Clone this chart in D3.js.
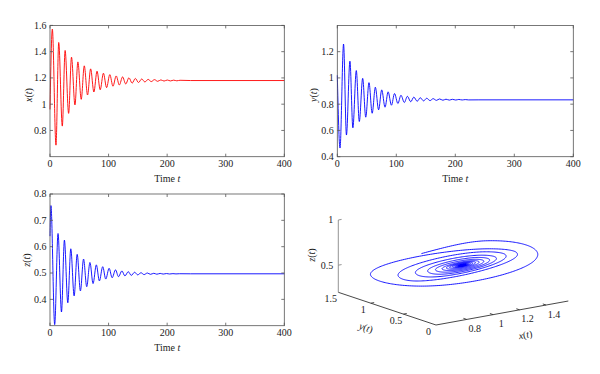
<!DOCTYPE html>
<html><head><meta charset="utf-8">
<script src="https://cdn.jsdelivr.net/npm/d3@7"></script>
<style>
body{margin:0;background:#fff}
svg{display:block}
text{font-family:"Liberation Serif","Times New Roman","DejaVu Serif",serif;fill:#222}
</style>
</head><body>
<svg id="c" width="600" height="374" font-family="Liberation Serif, Times New Roman, serif"></svg>
<script>
// ---- data (extrema) ----
const xTimes = [0, 4, 10.2, 14.9, 21, 25.8, 31.8, 36.7, 42.6, 47.6, 53.3, 58.5, 64.1, 69.4, 74.9, 80.3, 85.7, 91.2, 96.6, 102.1, 107.5, 113, 118.4, 123.9, 129.3, 134.8, 140.2, 145.7, 151.1, 156.6, 162, 167.5, 172.9, 178.4, 183.8, 189.3, 194.7, 200.2, 205.6, 211.1, 216.5, 222, 240, 400];
const xValues = [0.96, 1.572, 0.688, 1.47, 0.833, 1.409, 0.93, 1.358, 0.994, 1.322, 1.037, 1.292, 1.07, 1.269, 1.093, 1.251, 1.11, 1.236, 1.126, 1.225, 1.137, 1.215, 1.146, 1.208, 1.154, 1.201, 1.16, 1.196, 1.165, 1.192, 1.169, 1.189, 1.172, 1.187, 1.174, 1.185, 1.176, 1.184, 1.177, 1.183, 1.178, 1.182, 1.18, 1.18];

const yTimes = [0, 4.6, 10.6, 15.5, 21.4, 26.4, 32.2, 37.3, 43, 48.2, 53.7, 59.1, 64.5, 70, 75.3, 80.9, 86.1, 91.8, 97, 102.7, 107.9, 113.6, 118.8, 124.5, 129.7, 135.4, 140.6, 146.3, 151.5, 157.2, 162.4, 168.1, 173.3, 179, 184.2, 189.9, 195.1, 200.8, 206, 211.7, 216.9, 222.6, 240, 400];
const yValues = [1.02, 0.466, 1.258, 0.565, 1.127, 0.62, 1.056, 0.668, 0.997, 0.701, 0.964, 0.731, 0.929, 0.757, 0.909, 0.777, 0.894, 0.792, 0.881, 0.805, 0.868, 0.813, 0.86, 0.818, 0.854, 0.822, 0.849, 0.825, 0.845, 0.827, 0.842, 0.829, 0.84, 0.83, 0.838, 0.831, 0.837, 0.8315, 0.836, 0.832, 0.835, 0.8325, 0.833, 0.833];

const zTimes = [0, 1.6, 8.0, 13.7, 19.6, 24.6, 30.4, 35.5, 41.2, 46.4, 51.9, 57.3, 62.7, 68.2, 73.5, 79.1, 84.3, 90, 95.2, 100.9, 106.1, 111.8, 117, 122.7, 127.9, 133.6, 138.8, 144.5, 149.7, 155.4, 160.6, 166.3, 171.5, 177.2, 182.4, 188.1, 193.3, 199, 204.2, 209.9, 215.1, 220.8, 240, 400];
const zValues = [0.64, 0.756, 0.304, 0.65, 0.352, 0.625, 0.387, 0.592, 0.413, 0.571, 0.432, 0.553, 0.448, 0.54, 0.46, 0.531, 0.47, 0.524, 0.477, 0.518, 0.482, 0.512, 0.486, 0.508, 0.489, 0.505, 0.491, 0.503, 0.493, 0.501, 0.494, 0.5, 0.495, 0.499, 0.4955, 0.4985, 0.496, 0.498, 0.4963, 0.4977, 0.4966, 0.4973, 0.497, 0.497];

const timeTicks = [0, 100, 200, 300, 400];
const xTicks = [0.8, 1, 1.2, 1.4, 1.6];
const yTicks = [0.4, 0.6, 0.8, 1, 1.2];
const zTicks = [0.4, 0.5, 0.6, 0.7, 0.8];
const x3Ticks = [0.8, 1, 1.2, 1.4];
const y3Ticks = [0, 0.5, 1, 1.5];
const z3Ticks = [0.5, 1];

// ---- drawing ----
const svg = d3.select('#c');
const fmt = v => String(+v.toFixed(2));
const FS = 10;

function axisLabel(sel, name) {
  sel.append('tspan').attr('font-style', 'italic').text(name);
  sel.append('tspan').text('(');
  sel.append('tspan').attr('font-style', 'italic').text('t');
  sel.append('tspan').text(')');
}

function panel(o) {
  const g = svg.append('g');
  const sx = d3.scaleLinear().domain([0, 400]).range([o.l, o.r]);
  const sy = d3.scaleLinear().domain(o.yd).range([o.b, o.t]);
  const line = d3.line().x((d, i) => sx(o.times[i])).y(d => sy(d)).curve(d3.curveMonotoneX);
  g.append('path').attr('d', line(o.values)).attr('fill', 'none')
    .attr('stroke', o.color).attr('stroke-width', 0.9);
  g.append('rect').attr('x', o.l).attr('y', o.t).attr('width', o.r - o.l).attr('height', o.b - o.t)
    .attr('fill', 'none').attr('stroke', '#555').attr('stroke-width', 0.8);
  const tk = 3;
  timeTicks.forEach(v => {
    const x = sx(v);
    g.append('line').attr('x1', x).attr('x2', x).attr('y1', o.b).attr('y2', o.b - tk).attr('stroke', '#555').attr('stroke-width', 0.8);
    g.append('line').attr('x1', x).attr('x2', x).attr('y1', o.t).attr('y2', o.t + tk).attr('stroke', '#555').attr('stroke-width', 0.8);
    g.append('text').attr('x', x).attr('y', o.b + 10.5).attr('text-anchor', 'middle').attr('font-size', FS).text(fmt(v));
  });
  o.yt.forEach(v => {
    const y = sy(v);
    g.append('line').attr('x1', o.l).attr('x2', o.l + tk).attr('y1', y).attr('y2', y).attr('stroke', '#555').attr('stroke-width', 0.8);
    g.append('line').attr('x1', o.r).attr('x2', o.r - tk).attr('y1', y).attr('y2', y).attr('stroke', '#555').attr('stroke-width', 0.8);
    g.append('text').attr('x', o.l - 3.5).attr('y', y + 3.4).attr('text-anchor', 'end').attr('font-size', FS).text(fmt(v));
  });
  const tl = g.append('text').attr('x', (o.l + o.r) / 2).attr('y', o.b + 25).attr('text-anchor', 'middle').attr('font-size', FS);
  tl.append('tspan').text('Time ');
  tl.append('tspan').attr('font-style', 'italic').text('t');
  const yl = g.append('text').attr('transform', `translate(${o.l - o.lo},${o.ly}) rotate(-90)`)
    .attr('text-anchor', 'middle').attr('font-size', FS);
  axisLabel(yl, o.name);
}

panel({l: 50, r: 284.3, t: 25.4, b: 156.7, yd: [0.6, 1.6], yt: xTicks, times: xTimes, values: xValues, color: '#f00', name: 'x', ly: 95, lo: 18});
panel({l: 337.3, r: 573.3, t: 25.4, b: 156.7, yd: [0.4, 1.4], yt: yTicks, times: yTimes, values: yValues, color: '#0000ff', name: 'y', ly: 95, lo: 20});
panel({l: 50, r: 284.3, t: 194, b: 325.7, yd: [0.3, 0.8], yt: zTicks, times: zTimes, values: zValues, color: '#0000ff', name: 'z', ly: 260, lo: 20});

// ---- 3D phase portrait ----
function monotone(xs, ys) {
  const n = xs.length, h = [], s = [], m = new Array(n);
  for (let i = 0; i < n - 1; i++) { h[i] = xs[i + 1] - xs[i]; s[i] = (ys[i + 1] - ys[i]) / h[i]; }
  for (let i = 1; i < n - 1; i++) {
    const p = (s[i - 1] * h[i] + s[i] * h[i - 1]) / (h[i - 1] + h[i]);
    m[i] = (Math.sign(s[i - 1]) + Math.sign(s[i])) * Math.min(Math.abs(s[i - 1]), Math.abs(s[i]), 0.5 * Math.abs(p)) || 0;
  }
  m[0] = (3 * s[0] - m[1]) / 2;
  m[n - 1] = (3 * s[n - 2] - m[n - 2]) / 2;
  return t => {
    let i = Math.max(0, Math.min(n - 2, d3.bisectRight(xs, t) - 1));
    const u = (t - xs[i]) / h[i], u2 = u * u, u3 = u2 * u;
    return (2 * u3 - 3 * u2 + 1) * ys[i] + (u3 - 2 * u2 + u) * h[i] * m[i] + (-2 * u3 + 3 * u2) * ys[i + 1] + (u3 - u2) * h[i] * m[i + 1];
  };
}
const fx = monotone(xTimes, xValues), fy = monotone(yTimes, yValues), fz = monotone(zTimes, zValues);

const O = [436, 325], EX = [132.3, -24], EY = [-97.7, -32.7], EZ = [0, -72.3];
const s3x = d3.scaleLinear().domain([0.568, 1.568]).range([0, 1]);
const s3y = d3.scaleLinear().domain([0, 1.5]).range([0, 1]);
const s3z = d3.scaleLinear().domain([0.2, 1]).range([0, 1]);
function proj(x, y, z) {
  const a = s3x(x), b = s3y(y), c = s3z(z);
  return [O[0] + a * EX[0] + b * EY[0] + c * EZ[0], O[1] + a * EX[1] + b * EY[1] + c * EZ[1]];
}
const g3 = svg.append('g');
const ts = d3.range(0, 240, 0.05).concat([400]);
const pts = ts.map(t => proj(fx(t), fy(t), fz(t)));
g3.append('path').attr('d', d3.line()(pts)).attr('fill', 'none').attr('stroke', '#0000ff').attr('stroke-width', 0.9);

// axes
const xa0 = proj(0.568, 0, 0.2), xa1 = proj(1.568, 0, 0.2);
const ya1 = proj(0.568, 1.5, 0.2);
const za1 = proj(0.568, 1.5, 1);
g3.append('line').attr('x1', xa0[0]).attr('y1', xa0[1]).attr('x2', xa1[0]).attr('y2', xa1[1]).attr('stroke', '#333').attr('stroke-width', 0.9);
g3.append('line').attr('x1', xa0[0]).attr('y1', xa0[1]).attr('x2', ya1[0]).attr('y2', ya1[1]).attr('stroke', '#333').attr('stroke-width', 0.9);
g3.append('line').attr('x1', ya1[0]).attr('y1', ya1[1]).attr('x2', za1[0]).attr('y2', za1[1]).attr('stroke', '#888').attr('stroke-width', 0.9);

x3Ticks.forEach(v => {
  const p = proj(v, 0, 0.2), q = proj(v, 0.05, 0.2);
  g3.append('line').attr('x1', p[0]).attr('y1', p[1]).attr('x2', q[0]).attr('y2', q[1]).attr('stroke', '#333').attr('stroke-width', 0.9);
  g3.append('text').attr('x', p[0] + 8).attr('y', p[1] + 12.5).attr('text-anchor', 'middle').attr('font-size', FS).text(fmt(v));
});
y3Ticks.forEach(v => {
  const p = proj(0.568, v, 0.2), q = proj(0.593, v, 0.2);
  if (v > 0 && v < 1.5) g3.append('line').attr('x1', p[0]).attr('y1', p[1]).attr('x2', q[0]).attr('y2', q[1]).attr('stroke', '#333').attr('stroke-width', 0.9);
  g3.append('text').attr('x', p[0] - 7.5).attr('y', p[1] + 10).attr('text-anchor', 'middle').attr('font-size', FS).text(fmt(v));
});
z3Ticks.forEach(v => {
  const p = proj(0.568, 1.5, v), q = proj(0.593, 1.5, v);
  g3.append('line').attr('x1', p[0]).attr('y1', p[1]).attr('x2', q[0]).attr('y2', q[1]).attr('stroke', '#888').attr('stroke-width', 0.9);
  g3.append('text').attr('x', p[0] - 5).attr('y', p[1] + 3.4).attr('text-anchor', 'end').attr('font-size', FS).text(fmt(v));
});
const xl3 = g3.append('text').attr('transform', 'translate(526,338) rotate(-10)').attr('text-anchor', 'middle').attr('font-size', FS);
axisLabel(xl3, 'x');
const yl3 = g3.append('text').attr('transform', 'translate(365,331) rotate(18)').attr('text-anchor', 'middle').attr('font-size', FS);
axisLabel(yl3, 'y');
const zl3 = g3.append('text').attr('transform', 'translate(315,255) rotate(-90)').attr('text-anchor', 'middle').attr('font-size', FS);
axisLabel(zl3, 'z');
</script>
</body></html>
